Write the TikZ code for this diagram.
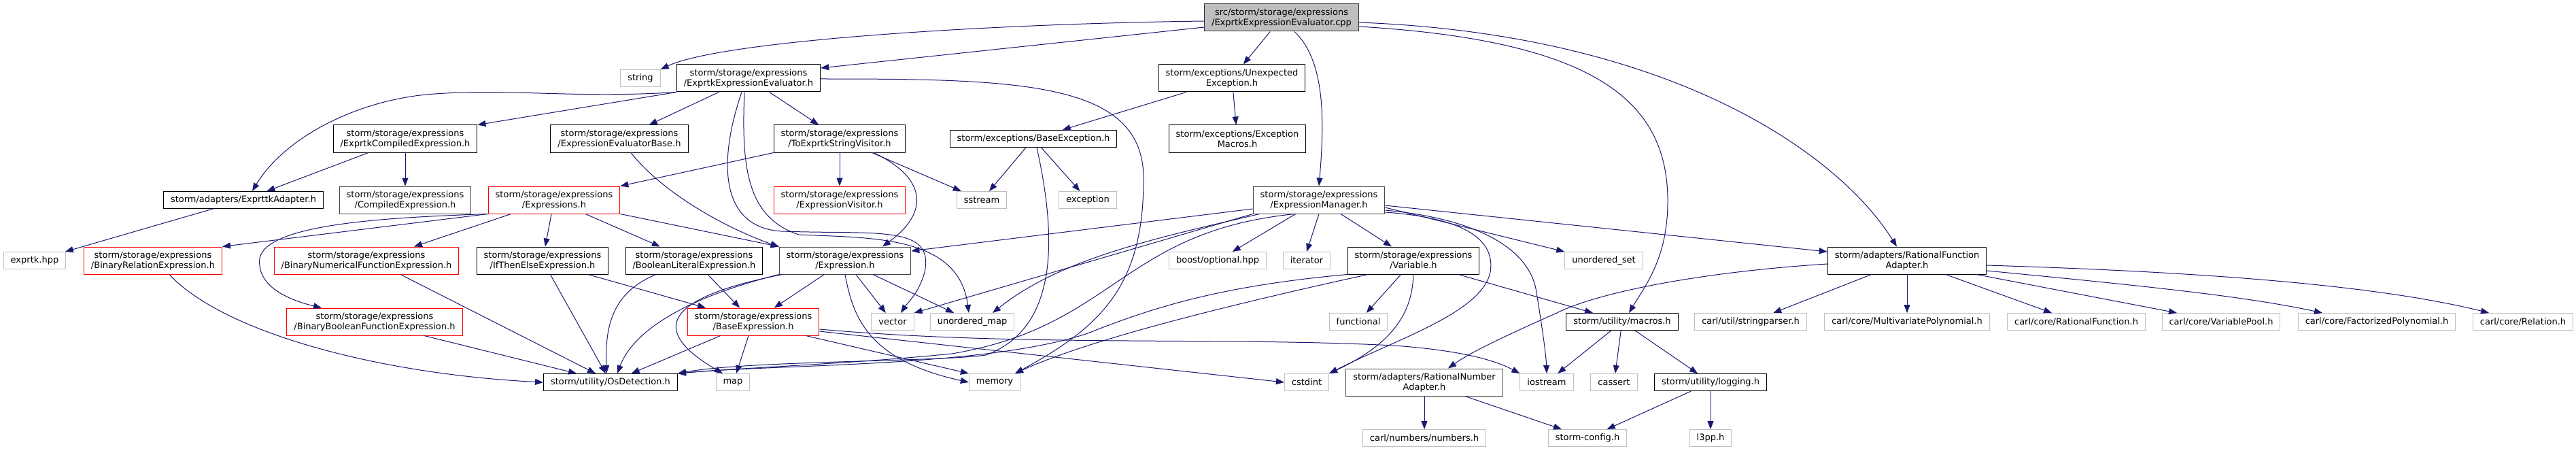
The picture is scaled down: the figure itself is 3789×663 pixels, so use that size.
\documentclass[tikz,border=0pt]{standalone}
\usepackage{fontspec}
\setmainfont{DejaVu Sans}
\usetikzlibrary{arrows.meta}

\definecolor{edgeblue}{HTML}{191970}
\definecolor{sysgrey}{HTML}{BFBFBF}

\begin{document}
\begin{tikzpicture}[x=1pt, y=-1pt,
  every node/.style={font=\fontsize{13}{15}\selectfont, align=center},
  hfile/.style={draw=black, fill=white, line width=1pt, inner xsep=10.5pt, inner ysep=2pt, minimum height=25pt},
  hfiletwo/.style={hfile, minimum height=40pt},
  hfiledim/.style={hfiletwo, draw=black!72},
  trunc/.style={hfiletwo, draw=red},
  sysfile/.style={hfile, draw=sysgrey},
  rootfile/.style={hfiletwo, fill=sysgrey, draw=black!80},
  dep/.style={draw=edgeblue, line width=1pt, -{Triangle[length=12pt, width=9pt]}}]

\useasboundingbox (0,0) rectangle (3789,663);

% rank 0: the source file
\node[rootfile] (root) at (1885,26) {src/storm/storage/expressions\\/ExprtkExpressionEvaluator.cpp};

% rank 1
\node[sysfile] (string) at (942,115) {string};
\node[hfiletwo] (eeh) at (1101,115) {storm/storage/expressions\\/ExprtkExpressionEvaluator.h};
\node[hfiletwo] (unexp) at (1812,115) {storm/exceptions/Unexpected\\Exception.h};

% rank 2
\node[hfiletwo] (ecomp) at (596,204) {storm/storage/expressions\\/ExprtkCompiledExpression.h};
\node[hfiletwo] (evbase) at (911,204) {storm/storage/expressions\\/ExpressionEvaluatorBase.h};
\node[hfiletwo] (tostr) at (1235,204) {storm/storage/expressions\\/ToExprtkStringVisitor.h};
\node[hfile] (baseexc) at (1520,204) {storm/exceptions/BaseException.h};
\node[hfiletwo] (excmac) at (1820,204) {storm/exceptions/Exception\\Macros.h};

% rank 3
\node[hfile] (adapter) at (358,294) {storm/adapters/ExprttkAdapter.h};
\node[hfiledim] (compiled) at (596,294) {storm/storage/expressions\\/CompiledExpression.h};
\node[trunc] (exprs) at (815,294) {storm/storage/expressions\\/Expressions.h};
\node[trunc] (visitor) at (1235,294) {storm/storage/expressions\\/ExpressionVisitor.h};
\node[sysfile] (sstream) at (1444,294) {sstream};
\node[sysfile] (exception) at (1600,294) {exception};
\node[hfiledim] (manager) at (1940,294) {storm/storage/expressions\\/ExpressionManager.h};

% rank 4
\node[sysfile] (exprtk) at (51,383) {exprtk.hpp};
\node[trunc] (binrel) at (225,383) {storm/storage/expressions\\/BinaryRelationExpression.h};
\node[trunc] (binnum) at (539,383) {storm/storage/expressions\\/BinaryNumericalFunctionExpression.h};
\node[hfiletwo] (ite) at (798,383) {storm/storage/expressions\\/IfThenElseExpression.h};
\node[hfiletwo] (boollit) at (1021,383) {storm/storage/expressions\\/BooleanLiteralExpression.h};
\node[hfiledim] (expr) at (1243,383) {storm/storage/expressions\\/Expression.h};
\node[sysfile] (boostopt) at (1791,383) {boost/optional.hpp};
\node[sysfile] (iterator) at (1922,383) {iterator};
\node[hfiletwo] (variable) at (2079,383) {storm/storage/expressions\\/Variable.h};
\node[sysfile] (uset) at (2359,383) {unordered\_set};
\node[hfiletwo] (rfa) at (2805,383) {storm/adapters/RationalFunction\\Adapter.h};

% rank 5
\node[trunc] (binbool) at (551,473) {storm/storage/expressions\\/BinaryBooleanFunctionExpression.h};
\node[trunc] (baseexpr) at (1108,473) {storm/storage/expressions\\/BaseExpression.h};
\node[sysfile] (vector) at (1313,473) {vector};
\node[sysfile] (umap) at (1430,473) {unordered\_map};
\node[sysfile] (functional) at (1998,473) {functional};
\node[hfile] (macros) at (2386,473) {storm/utility/macros.h};
\node[sysfile] (strparser) at (2575,473) {carl/util/stringparser.h};
\node[sysfile] (mvpoly) at (2805,473) {carl/core/MultivariatePolynomial.h};
\node[sysfile] (ratfun) at (3054,473) {carl/core/RationalFunction.h};
\node[sysfile] (varpool) at (3267,473) {carl/core/VariablePool.h};
\node[sysfile] (factpoly) at (3496,473) {carl/core/FactorizedPolynomial.h};
\node[sysfile] (relation) at (3711,473) {carl/core/Relation.h};

% rank 6
\node[hfile] (osdet) at (898,562) {storm/utility/OsDetection.h};
\node[sysfile] (map) at (1078,562) {map};
\node[sysfile] (memory) at (1463,562) {memory};
\node[sysfile] (cstdint) at (1922,562) {cstdint};
\node[hfiledim] (rna) at (2095,562) {storm/adapters/RationalNumber\\Adapter.h};
\node[sysfile] (iostream) at (2275,562) {iostream};
\node[sysfile] (cassert) at (2374,562) {cassert};
\node[hfile] (logging) at (2516,562) {storm/utility/logging.h};

% rank 7
\node[sysfile] (numbers) at (2095,644) {carl/numbers/numbers.h};
\node[sysfile] (config) at (2335,644) {storm-config.h};
\node[sysfile] (l3pp) at (2516,644) {l3pp.h};

% includes of the source file
\draw[dep] ([yshift=-5pt]root.west) .. controls (1450,35) and (1060,60) .. (string.north east);
\draw[dep] ([yshift=-14pt]root.west) -- ([yshift=15pt]eeh.east);
\draw[dep] (root) -- (unexp);
\draw[dep] ([xshift=19pt]root.south) .. controls (1950,90) and (1948,180) .. (manager.north);
\draw[dep] ([yshift=-7pt]root.east) .. controls (2450,50) and (2700,220) .. ([xshift=-15pt]rfa.north);
\draw[dep] ([yshift=-13pt]root.east) .. controls (2350,60) and (2455,150) .. (2453,300)
  .. controls (2452,380) and (2420,420) .. ([xshift=10pt]macros.north);

% ExprtkExpressionEvaluator.h
\draw[dep] (eeh.south west) .. controls (850,145) and (750,130) .. (640,138)
  .. controls (530,145) and (420,200) .. ([xshift=13pt]adapter.north);
\draw[dep] (eeh.south west) -- (ecomp.north east);
\draw[dep] (eeh) -- (evbase);
\draw[dep] (eeh) -- (tostr);
\draw[dep] ([xshift=-10pt]eeh.south) .. controls (1055,240) and (1060,335) .. (1150,340)
  .. controls (1290,345) and (1375,330) .. (1360,400)
  .. controls (1352,430) and (1335,445) .. ([xshift=12pt]vector.north);
\draw[dep] ([xshift=-6pt]eeh.south) .. controls (1090,250) and (1100,320) .. (1175,345)
  .. controls (1280,350) and (1410,345) .. ([xshift=-5pt]umap.north);
\draw[dep] ([yshift=-1pt]eeh.east) .. controls (1500,116) and (1680,120) .. (1682,260)
  .. controls (1683,420) and (1620,480) .. ([xshift=30pt]memory.north);

% compiled expression, adapter, evaluator base
\draw[dep] (ecomp) -- (adapter);
\draw[dep] (ecomp) -- (compiled);
\draw[dep] (adapter) -- (exprtk);
\draw[dep] ([xshift=17pt]evbase.south) .. controls (980,290) and (1080,340) .. (expr.north west);

% string visitor
\draw[dep] (tostr.south west) -- (exprs.north east);
\draw[dep] (tostr) -- (visitor);
\draw[dep] (tostr) -- (sstream);
\draw[dep] ([xshift=50pt]tostr.south) .. controls (1360,260) and (1370,310) .. ([xshift=55pt]expr.north);

% exceptions
\draw[dep] (unexp) -- (baseexc);
\draw[dep] (unexp) -- (excmac);
\draw[dep] (baseexc) -- (sstream);
\draw[dep] (baseexc) -- (exception);
\draw[dep] ([xshift=5pt]baseexc.south) .. controls (1550,330) and (1565,480) .. (1450,522)
  .. controls (1380,532) and (1100,530) .. (osdet.north east);

% Expressions.h
\draw[dep] (exprs.south west) -- (binrel.north east);
\draw[dep] ([xshift=34pt]exprs.south west) -- ([xshift=70pt]binnum.north);
\draw[dep] (exprs.south west) .. controls (560,320) and (370,330) .. (382,390)
  .. controls (384,420) and (420,440) .. ([xshift=-78pt]binbool.north);
\draw[dep] (exprs) -- (ite);
\draw[dep] ([xshift=46pt]exprs.south) -- ([xshift=-50pt]boollit.north);
\draw[dep] (exprs.south east) -- (expr.north west);

% expression classes
\draw[dep] ([xshift=24pt]binrel.south) .. controls (330,490) and (560,550) .. (osdet.west);
\draw[dep] ([xshift=50pt]binnum.south) -- ([xshift=-22pt]osdet.north);
\draw[dep] ([xshift=73pt]binbool.south) -- ([xshift=-50pt]osdet.north);
\draw[dep] (ite) -- (osdet);
\draw[dep] ([xshift=67pt]ite.south) -- ([xshift=-70pt]baseexpr.north);
\draw[dep] ([xshift=-56pt]boollit.south) .. controls (900,430) and (890,480) .. ([xshift=-6pt]osdet.north);
\draw[dep] (boollit) -- (baseexpr);

% Expression.h
\draw[dep] (expr) -- (baseexpr);
\draw[dep] (expr.south west) .. controls (1000,440) and (930,490) .. ([xshift=10pt]osdet.north);
\draw[dep] ([xshift=5pt]expr.south west) .. controls (940,445) and (980,500) .. ([xshift=-15pt]map.north);
\draw[dep] (expr) -- (vector);
\draw[dep] ([xshift=41pt]expr.south) -- ([xshift=-27pt]umap.north);
\draw[dep] (expr.south) .. controls (1255,470) and (1280,530) .. (memory.west);

% BaseExpression.h
\draw[dep] (baseexpr) -- (osdet);
\draw[dep] ([xshift=-7pt]baseexpr.south) -- ([xshift=5pt]map.north);
\draw[dep] ([xshift=-20pt]baseexpr.south east) -- (memory.north west);
\draw[dep] ([yshift=-11pt]baseexpr.east) .. controls (1500,510) and (1800,495) .. (2050,508)
  .. controls (2150,515) and (2200,530) .. (iostream.north west);
\draw[dep] ([yshift=-14pt]baseexpr.east) -- (cstdint.west);

% ExpressionManager.h
\draw[dep] ([yshift=-13pt]manager.west) -- ([yshift=14pt]expr.east);
\draw[dep] (manager.south west) -- (vector.north east);
\draw[dep] ([xshift=10pt]manager.south west) .. controls (1700,350) and (1560,380) .. ([xshift=30pt]umap.north);
\draw[dep] (manager) -- (boostopt);
\draw[dep] (manager.south) -- (iterator.north);
\draw[dep] (manager) -- (variable);
\draw[dep] ([yshift=-11pt]manager.east) -- (uset.north west);
\draw[dep] ([yshift=-15pt]manager.east) .. controls (2160,320) and (2250,360) .. (2260,430)
  .. controls (2268,480) and (2274,520) .. (iostream.north);
\draw[dep] ([yshift=-18pt]manager.east) .. controls (2150,320) and (2200,350) .. (2192,400)
  .. controls (2180,460) and (2050,500) .. (cstdint.north east);
\draw[dep] ([xshift=-35pt]manager.south) .. controls (1650,340) and (1640,480) .. (1400,520)
  .. controls (1250,535) and (1100,540) .. (osdet.north east);
\draw[dep] ([yshift=-8pt]manager.east) -- ([yshift=13pt]rfa.west);

% Variable.h
\draw[dep] (variable) -- (functional);
\draw[dep] (variable.south) .. controls (2077,450) and (2060,500) .. (cstdint.north east);
\draw[dep] ([xshift=66pt]variable.south) -- ([xshift=-43pt]macros.north);
\draw[dep] (variable.south west) .. controls (1800,420) and (1700,450) .. (1600,490)
  .. controls (1450,540) and (1150,535) .. (osdet.north east);
\draw[dep] ([xshift=-67pt]variable.south) .. controls (1800,450) and (1600,500) .. ([xshift=30pt]memory.north);

% RationalFunctionAdapter.h
\draw[dep] (rfa) -- (strparser);
\draw[dep] (rfa) -- (mvpoly);
\draw[dep] (rfa) -- (ratfun);
\draw[dep] ([xshift=-15pt]rfa.south east) -- ([xshift=-65pt]varpool.north);
\draw[dep] ([yshift=-15pt]rfa.east) .. controls (3150,420) and (3300,435) .. ([xshift=-80pt]factpoly.north);
\draw[dep] ([yshift=-7pt]rfa.east) .. controls (3250,400) and (3500,420) .. ([xshift=-50pt]relation.north);
\draw[dep] ([yshift=-5pt]rfa.west) .. controls (2500,400) and (2350,430) .. (2290,460)
  .. controls (2200,500) and (2160,520) .. ([xshift=35pt]rna.north);

% utilities
\draw[dep] (macros) -- (iostream);
\draw[dep] (macros) -- (cassert);
\draw[dep] (macros) -- (logging);
\draw[dep] (logging) -- (config);
\draw[dep] (logging) -- (l3pp);
\draw[dep] (rna) -- (numbers);
\draw[dep] (rna) -- (config);

\end{tikzpicture}
\end{document}
